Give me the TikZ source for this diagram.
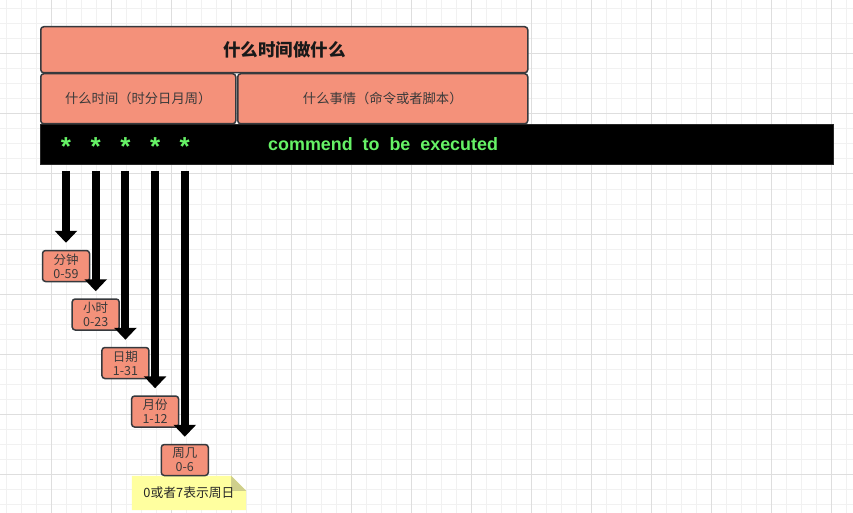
\documentclass[tikz,border=0pt]{standalone}
\usepackage{fontspec}
\setmainfont{Liberation Sans}
\newfontfamily\cjk{Noto Sans CJK SC}
\usetikzlibrary{arrows.meta, backgrounds}

\definecolor{salmon}{HTML}{F4917A}
\definecolor{edge}{HTML}{36393D}
\definecolor{ink}{HTML}{3A3A3A}
\definecolor{termgreen}{HTML}{66F266}
\definecolor{notefill}{HTML}{FFFF9F}
\definecolor{notefold}{HTML}{CFCF8C}
\definecolor{gridminor}{HTML}{F1F1F1}
\definecolor{gridmajor}{HTML}{DEDEDE}

\tikzset{
    cell/.style={draw=edge, line width=1.5pt, fill=salmon, rounded corners=3pt,
        text=ink, inner sep=0pt, font=\cjk\fontsize{13.3}{15}\selectfont},
    headcell/.style={cell, text=black!90,
        font=\cjk\bfseries\fontsize{17.5}{20}\selectfont},
    unit/.style={cell, minimum width=47pt, minimum height=31pt, align=center,
        font=\cjk\fontsize{12.5}{14}\selectfont},
    termbar/.style={draw=black!85, fill=black, line width=1pt, inner sep=0pt},
    termtext/.style={text=termgreen, inner sep=0pt,
        font=\bfseries\fontsize{17.9}{20}\selectfont},
    fatarrow/.style={line width=8pt, black,
        -{Triangle[length=12pt, width=22pt]}, shorten <=6pt, shorten >=7pt},
    gridline/.style={gridminor, line width=1pt},
    gridmain/.style={gridmajor, line width=1pt}
}

\begin{document}
\begin{tikzpicture}[x=1pt, y=-1pt]
    \useasboundingbox (0,0) rectangle (853,513);
    % background grid
    \begin{scope}[on background layer]
        \fill[white] (0,0) rectangle (853,513);
        \foreach \gx in {6.7,21.7,...,846.7}
            \draw[gridline] (\gx,0) -- (\gx,513);
        \foreach \gy in {9,24,...,504}
            \draw[gridline] (0,\gy) -- (853,\gy);
        \foreach \gx in {51.7,111.7,...,831.7}
            \draw[gridmain] (\gx,0) -- (\gx,513);
        \foreach \gy in {54,114,...,474}
            \draw[gridmain] (0,\gy) -- (853,\gy);
    \end{scope}
    % header: what to do at what time
    \node[headcell, minimum width=487pt, minimum height=46pt, anchor=north west]
        (title) at (40,26) {什么时间做什么};
    \node[cell, minimum width=195pt, minimum height=50pt, anchor=north west]
        (when) at (40,73) {什么时间（时分日月周）};
    \node[cell, minimum width=290pt, minimum height=50pt, anchor=north west]
        (what) at (237,73) {什么事情（命令或者脚本）};
    % the crontab line
    \node[termbar, minimum width=793pt, minimum height=40pt, anchor=north west]
        (bar) at (40,124) {};
    \node[termtext, anchor=base west] (cmd) at (268,150.7)
        {commend~~to~~be~~executed};
    % the five time fields, each with its range
    \foreach \nm/\lbl/\rng [count=\i from 0] in
        {min/分钟/0-59, hour/小时/0-23, day/日期/1-31,
         month/月份/1-12, week/周几/0-6} {
        \node[termtext, font=\bfseries\fontsize{26}{28}\selectfont, anchor=base]
            (star-\nm) at ({66+29.7*\i},156) {*};
        \node[unit] (\nm) at ({66+29.7*\i},{266+48.5*\i}) {\lbl\\\rng};
        \draw[fatarrow] (star-\nm |- bar.south) -- (\nm.north);
    }
    % note under the weekday field
    \node[inner sep=0pt, minimum width=114pt, minimum height=34pt,
        font=\cjk\fontsize{12.8}{15}\selectfont, text=black!85]
        (note) at (189,493) {0或者7表示周日};
    \begin{scope}[on background layer]
        \fill[notefill] (note.north west) -- ([xshift=-15pt]note.north east)
            -- ([yshift=-15pt]note.north east) -- (note.south east)
            -- (note.south west) -- cycle;
        \fill[notefold] ([xshift=-15pt]note.north east)
            -- ([xshift=-15pt, yshift=-15pt]note.north east)
            -- ([yshift=-15pt]note.north east) -- cycle;
    \end{scope}
\end{tikzpicture}
\end{document}
